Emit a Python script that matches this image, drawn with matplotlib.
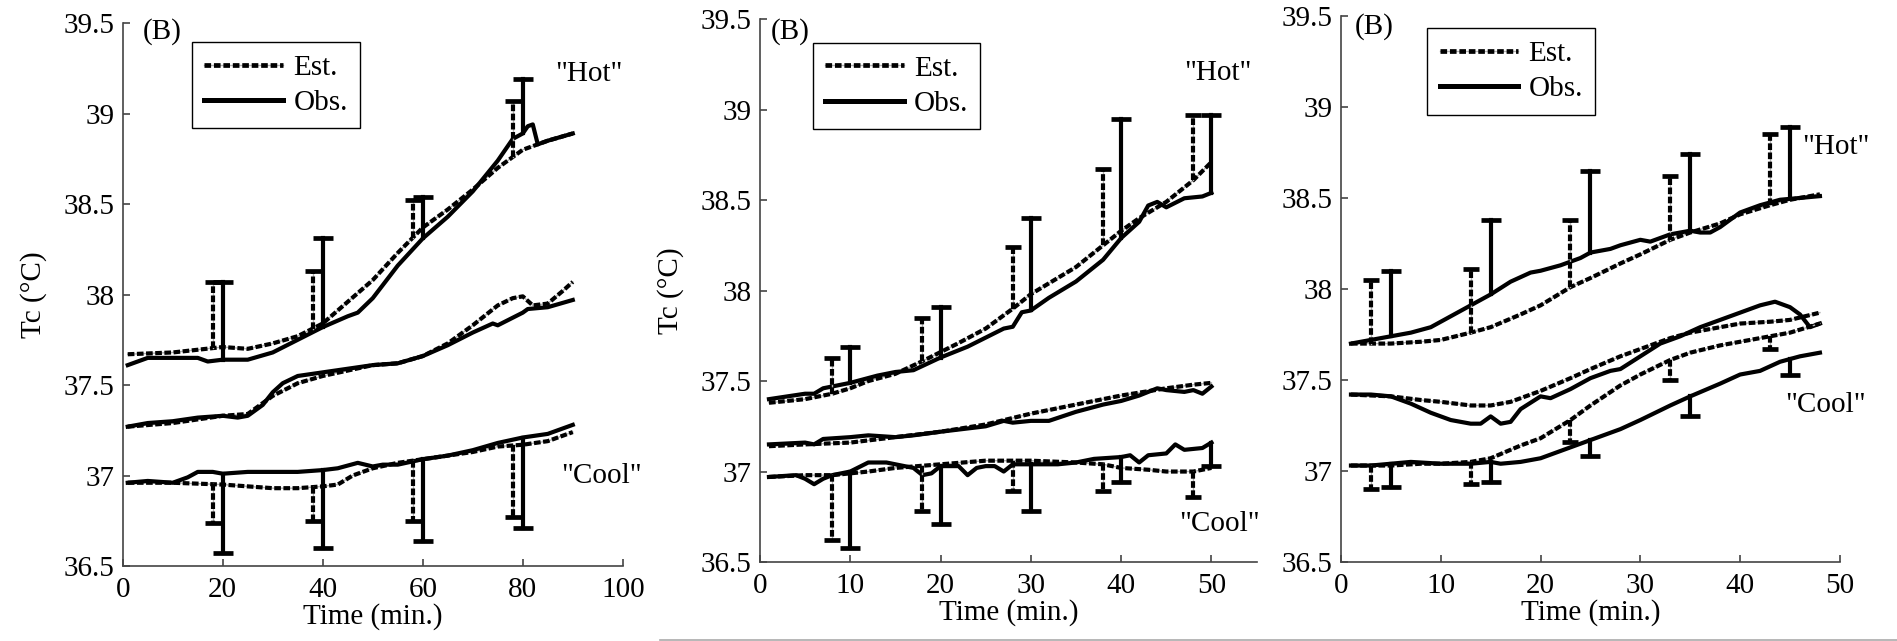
import numpy as np
import matplotlib
matplotlib.use("Agg")
import matplotlib.pyplot as plt
from matplotlib.lines import Line2D
from matplotlib.ticker import FuncFormatter

plt.rcParams['font.family'] = ['Liberation Serif', 'DejaVu Serif']
FS = 21
plt.rcParams['font.size'] = FS

# ---- panel 1 (0-100 min) ----
p1_hot_obs_x = [1, 5, 10, 15, 17, 20, 25, 30, 35, 40, 45, 47, 50, 55, 60, 65, 70, 75, 78, 80, 81, 82, 83, 85, 90]
p1_hot_obs_y = [37.61, 37.65, 37.65, 37.65, 37.63, 37.64, 37.64, 37.68, 37.75, 37.82, 37.88, 37.90, 37.98, 38.16,
                38.31, 38.43, 38.57, 38.74, 38.86, 38.89, 38.93, 38.94, 38.83, 38.85, 38.89]
p1_hot_est_x = [1, 10, 20, 25, 30, 35, 40, 45, 50, 55, 60, 65, 70, 75, 80, 85, 90]
p1_hot_est_y = [37.67, 37.68, 37.71, 37.70, 37.73, 37.77, 37.84, 37.96, 38.08, 38.23, 38.37, 38.47, 38.58, 38.70,
                38.80, 38.85, 38.89]
p1_mid_obs_x = [1, 5, 10, 15, 20, 23, 25, 28, 30, 32, 35, 40, 45, 50, 55, 60, 65, 70, 74, 75, 80, 81, 85, 90]
p1_mid_obs_y = [37.27, 37.29, 37.30, 37.32, 37.33, 37.32, 37.33, 37.39, 37.46, 37.51, 37.55, 37.57, 37.59, 37.61,
                37.62, 37.66, 37.72, 37.79, 37.84, 37.83, 37.90, 37.92, 37.93, 37.97]
p1_mid_est_x = [1, 10, 20, 25, 30, 35, 40, 45, 50, 55, 60, 65, 70, 75, 78, 80, 82, 85, 88, 90]
p1_mid_est_y = [37.27, 37.29, 37.33, 37.34, 37.44, 37.51, 37.55, 37.58, 37.61, 37.62, 37.66, 37.73, 37.83, 37.94,
                37.98, 37.99, 37.94, 37.95, 38.02, 38.07]
p1_cool_obs_x = [1, 5, 10, 13, 15, 18, 20, 25, 30, 35, 40, 43, 47, 50, 52, 55, 60, 65, 70, 75, 80, 85, 88, 90]
p1_cool_obs_y = [36.96, 36.97, 36.96, 36.99, 37.02, 37.02, 37.01, 37.02, 37.02, 37.02, 37.03, 37.04, 37.07, 37.05,
                 37.06, 37.06, 37.09, 37.11, 37.14, 37.18, 37.21, 37.23, 37.26, 37.28]
p1_cool_est_x = [1, 10, 20, 25, 30, 35, 40, 43, 46, 50, 55, 60, 65, 70, 75, 80, 85, 90]
p1_cool_est_y = [36.96, 36.96, 36.95, 36.94, 36.93, 36.93, 36.94, 36.95, 37.00, 37.04, 37.07, 37.09, 37.11, 37.13,
                 37.16, 37.17, 37.19, 37.24]
p1_est_bar_x = [18, 38, 58, 78]
p1_obs_bar_x = [20, 40, 60, 80]
p1_hot_est_bar = [38.07, 38.13, 38.52, 39.07]
p1_hot_obs_bar = [38.07, 38.31, 38.54, 39.19]
p1_cool_est_bar = [36.74, 36.75, 36.75, 36.77]
p1_cool_obs_bar = [36.57, 36.60, 36.64, 36.71]

# ---- panel 2 (0-55 min) ----
p2_hot_obs_x = [1, 5, 6, 7, 10, 13, 15, 17, 20, 23, 25, 27, 28, 29, 30, 32, 35, 38, 40, 42, 43, 44, 45, 47, 49, 50]
p2_hot_obs_y = [37.40, 37.43, 37.43, 37.46, 37.49, 37.53, 37.55, 37.56, 37.63, 37.69, 37.74, 37.79, 37.80, 37.88,
                37.89, 37.96, 38.05, 38.17, 38.29, 38.38, 38.47, 38.49, 38.46, 38.51, 38.52, 38.54]
p2_hot_est_x = [1, 5, 8, 10, 12, 15, 18, 20, 22, 25, 28, 30, 33, 35, 38, 40, 42, 45, 48, 50]
p2_hot_est_y = [37.38, 37.40, 37.43, 37.46, 37.50, 37.54, 37.61, 37.66, 37.71, 37.79, 37.90, 37.98, 38.07, 38.13,
                38.25, 38.33, 38.40, 38.49, 38.61, 38.71]
p2_mid_obs_x = [1, 5, 6, 7, 10, 12, 15, 17, 20, 25, 27, 28, 30, 32, 35, 38, 40, 42, 44, 45, 47, 48, 49, 50]
p2_mid_obs_y = [37.15, 37.16, 37.15, 37.18, 37.19, 37.20, 37.19, 37.20, 37.22, 37.25, 37.28, 37.27, 37.28, 37.28,
                37.33, 37.37, 37.39, 37.42, 37.46, 37.45, 37.44, 37.45, 37.43, 37.47]
p2_mid_est_x = [1, 5, 10, 15, 20, 25, 30, 35, 40, 45, 48, 50]
p2_mid_est_y = [37.14, 37.15, 37.16, 37.19, 37.22, 37.26, 37.32, 37.37, 37.42, 37.46, 37.48, 37.49]
p2_cool_obs_x = [1, 4, 5, 6, 7, 8, 10, 12, 14, 16, 17, 18, 19, 20, 22, 23, 24, 25, 26, 27, 28, 30, 33, 35, 37, 40,
                 41, 42, 43, 45, 46, 47, 49, 50]
p2_cool_obs_y = [36.97, 36.98, 36.96, 36.93, 36.96, 36.98, 37.00, 37.05, 37.05, 37.03, 37.02, 36.98, 36.99, 37.03,
                 37.03, 36.98, 37.02, 37.03, 37.03, 37.00, 37.04, 37.04, 37.04, 37.05, 37.07, 37.08, 37.09, 37.05,
                 37.09, 37.10, 37.15, 37.12, 37.13, 37.16]
p2_cool_est_x = [1, 5, 8, 10, 12, 15, 20, 25, 30, 35, 38, 40, 43, 45, 48, 50]
p2_cool_est_y = [36.97, 36.98, 36.98, 36.99, 37.00, 37.02, 37.04, 37.06, 37.06, 37.05, 37.04, 37.02, 37.01, 37.00,
                 37.00, 37.02]
p2_est_bar_x = [8, 18, 28, 38, 48]
p2_obs_bar_x = [10, 20, 30, 40, 50]
p2_hot_est_bar = [37.63, 37.85, 38.24, 38.67, 38.97]
p2_hot_obs_bar = [37.69, 37.91, 38.40, 38.95, 38.97]
p2_cool_est_bar = [36.62, 36.78, 36.89, 36.89, 36.86]
p2_cool_obs_bar = [36.58, 36.71, 36.78, 36.94, 37.03]

# ---- panel 3 (0-50 min) ----
p3_hot_obs_x = [1, 3, 5, 7, 9, 10, 12, 14, 15, 17, 19, 20, 22, 24, 25, 27, 28, 30, 31, 33, 35, 36, 37, 38, 40, 42,
                44, 46, 48]
p3_hot_obs_y = [37.70, 37.72, 37.74, 37.76, 37.79, 37.82, 37.88, 37.94, 37.97, 38.04, 38.09, 38.10, 38.13, 38.17,
                38.20, 38.22, 38.24, 38.27, 38.26, 38.30, 38.32, 38.31, 38.31, 38.34, 38.42, 38.46, 38.49, 38.50, 38.51]
p3_hot_est_x = [1, 5, 8, 10, 13, 15, 18, 20, 23, 25, 28, 30, 33, 35, 38, 40, 43, 45, 48]
p3_hot_est_y = [37.70, 37.70, 37.71, 37.72, 37.76, 37.79, 37.86, 37.91, 38.01, 38.06, 38.14, 38.19, 38.27, 38.31,
                38.36, 38.41, 38.46, 38.49, 38.52]
p3_mid_obs_x = [1, 3, 5, 7, 9, 11, 13, 14, 15, 16, 17, 18, 20, 21, 23, 25, 27, 28, 30, 32, 34, 36, 38, 40, 42, 43.5,
                45, 46, 47, 48]
p3_mid_obs_y = [37.42, 37.42, 37.41, 37.37, 37.32, 37.28, 37.26, 37.26, 37.30, 37.26, 37.27, 37.34, 37.41, 37.40,
                37.45, 37.51, 37.55, 37.56, 37.63, 37.70, 37.74, 37.79, 37.83, 37.87, 37.91, 37.93, 37.90, 37.86,
                37.79, 37.81]
p3_mid_est_x = [1, 5, 8, 10, 13, 15, 17, 20, 23, 25, 28, 30, 33, 35, 38, 40, 43, 45, 48]
p3_mid_est_y = [37.42, 37.41, 37.39, 37.38, 37.36, 37.36, 37.38, 37.44, 37.51, 37.56, 37.63, 37.67, 37.73, 37.76,
                37.79, 37.81, 37.82, 37.83, 37.87]
p3_cool_obs_x = [1, 3, 5, 7, 10, 13, 15, 16, 18, 20, 22, 25, 28, 30, 33, 35, 38, 40, 42, 44, 46, 48]
p3_cool_obs_y = [37.03, 37.03, 37.04, 37.05, 37.04, 37.04, 37.05, 37.04, 37.05, 37.07, 37.11, 37.17, 37.23, 37.28,
                 37.36, 37.41, 37.48, 37.53, 37.55, 37.60, 37.63, 37.65]
p3_cool_est_x = [1, 5, 8, 10, 13, 15, 18, 20, 23, 25, 28, 30, 33, 35, 38, 40, 43, 45, 48]
p3_cool_est_y = [37.03, 37.03, 37.04, 37.04, 37.05, 37.07, 37.14, 37.18, 37.28, 37.36, 37.47, 37.53, 37.61, 37.65,
                 37.69, 37.71, 37.74, 37.76, 37.81]
p3_est_bar_x = [3, 13, 23, 33, 43]
p3_obs_bar_x = [5, 15, 25, 35, 45]
p3_hot_est_bar = [38.05, 38.11, 38.38, 38.62, 38.85]
p3_hot_obs_bar = [38.10, 38.38, 38.65, 38.74, 38.89]
p3_cool_est_bar = [36.90, 36.93, 37.16, 37.50, 37.67]
p3_cool_obs_bar = [36.91, 36.94, 37.08, 37.30, 37.53]

y_ticks = [36.5, 37, 37.5, 38, 38.5, 39, 39.5]

# est. drawn as heavy black dashes over a thin grey line (grey shows in the gaps)
EST_UNDER = dict(color='#b0b0b0', lw=1.0, linestyle='-')
EST = dict(color='black', lw=3.0, linestyle=(0, (1.6, 0.6)))
OBS = dict(color='black', lw=3.0, linestyle='-')
fig = plt.figure(figsize=(18.97, 6.41), dpi=100)


def est_line(ax, x, y):
    ax.plot(x, y, **EST_UNDER)
    ax.plot(x, y, **EST)


def bars(ax, xs, ends, cx, cy, kind):
    base = np.interp(xs, cx, cy)
    for x, b, e in zip(xs, base, ends):
        if kind == 'est':
            est_line(ax, [x, x], [b, e])
        else:
            ax.plot([x, x], [b, e], **OBS)
    if kind == 'est':
        ax.plot(xs, ends, ls='none', marker='_', ms=11, mew=3.4, color='black')
    else:
        ax.plot(xs, ends, ls='none', marker='_', ms=14, mew=3.4, color='black')


def panel(rect, xlim, xticks, curves, bar_sets, hot_xy, cool_xy, b_xy, leg_xy, ylabel=True):
    ax = fig.add_axes(rect)
    for (ex, ey, ox, oy) in curves:
        est_line(ax, ex, ey)
        ax.plot(ox, oy, **OBS)
    for (xs, ends, cx, cy, kind) in bar_sets:
        bars(ax, xs, ends, cx, cy, kind)
    ax.set_xlim(*xlim)
    ax.set_ylim(36.5, 39.5)
    ax.set_xticks(xticks)
    ax.set_yticks(y_ticks)
    ax.yaxis.set_major_formatter(FuncFormatter(lambda v, p: '%g' % v))
    for s in ['top', 'right']:
        ax.spines[s].set_visible(False)
    for s in ['left', 'bottom']:
        ax.spines[s].set_color('#444444')
        ax.spines[s].set_linewidth(1.2)
    ax.tick_params(direction='in', length=5, width=1.2, color='#444444', labelsize=FS)
    ax.tick_params(axis='x', pad=8)
    ax.tick_params(axis='y', pad=6)
    ax.set_xlabel('Time (min.)', fontsize=FS, labelpad=0)
    if ylabel:
        ax.set_ylabel('Tc (°C)', fontsize=FS, labelpad=12)
    ax.text(*hot_xy, '"Hot"', ha='center', va='center', fontsize=FS, clip_on=False)
    ax.text(*cool_xy, '"Cool"', ha='center', va='center', fontsize=FS, clip_on=False)
    ax.text(*b_xy, '(B)', ha='center', va='center', fontsize=FS, clip_on=False)
    est_h = (Line2D([], [], color='#b0b0b0', lw=1.0),
             Line2D([], [], color='black', lw=3.4, linestyle=(0, (1.4, 0.6))))
    obs_h = Line2D([], [], color='black', lw=3.6)
    leg = ax.legend([est_h, obs_h], ['Est.', 'Obs.'], loc='upper left', bbox_to_anchor=leg_xy,
                    borderaxespad=0, fancybox=False, framealpha=1, edgecolor='black',
                    handlelength=2.7, handletextpad=0.35, labelspacing=0.3, borderpad=0.42, fontsize=FS)
    leg.get_frame().set_linewidth(1.0)
    return ax


panel([0.0647, 0.117, 0.2636, 0.847], (0, 100), [0, 20, 40, 60, 80, 100],
      [(p1_hot_est_x, p1_hot_est_y, p1_hot_obs_x, p1_hot_obs_y),
       (p1_mid_est_x, p1_mid_est_y, p1_mid_obs_x, p1_mid_obs_y),
       (p1_cool_est_x, p1_cool_est_y, p1_cool_obs_x, p1_cool_obs_y)],
      [(p1_est_bar_x, p1_hot_est_bar, p1_hot_est_x, p1_hot_est_y, 'est'),
       (p1_obs_bar_x, p1_hot_obs_bar, p1_hot_obs_x, p1_hot_obs_y, 'obs'),
       (p1_est_bar_x, p1_cool_est_bar, p1_cool_est_x, p1_cool_est_y, 'est'),
       (p1_obs_bar_x, p1_cool_obs_bar, p1_cool_obs_x, p1_cool_obs_y, 'obs')],
      (93.3, 39.22), (95.7, 37.0), (7.9, 39.455), (0.139, 0.965))

panel([0.4006, 0.1232, 0.2618, 0.847], (0, 55), [0, 10, 20, 30, 40, 50],
      [(p2_hot_est_x, p2_hot_est_y, p2_hot_obs_x, p2_hot_obs_y),
       (p2_mid_est_x, p2_mid_est_y, p2_mid_obs_x, p2_mid_obs_y),
       (p2_cool_est_x, p2_cool_est_y, p2_cool_obs_x, p2_cool_obs_y)],
      [(p2_est_bar_x, p2_hot_est_bar, p2_hot_est_x, p2_hot_est_y, 'est'),
       (p2_obs_bar_x, p2_hot_obs_bar, p2_hot_obs_x, p2_hot_obs_y, 'obs'),
       (p2_est_bar_x, p2_cool_est_bar, p2_cool_est_x, p2_cool_est_y, 'est'),
       (p2_obs_bar_x, p2_cool_obs_bar, p2_cool_obs_x, p2_cool_obs_y, 'obs')],
      (50.7, 39.2), (50.9, 36.71), (3.4, 39.43), (0.106, 0.956))

panel([0.7069, 0.1232, 0.263, 0.852], (0, 50), [0, 10, 20, 30, 40, 50],
      [(p3_hot_est_x, p3_hot_est_y, p3_hot_obs_x, p3_hot_obs_y),
       (p3_mid_est_x, p3_mid_est_y, p3_mid_obs_x, p3_mid_obs_y),
       (p3_cool_est_x, p3_cool_est_y, p3_cool_obs_x, p3_cool_obs_y)],
      [(p3_est_bar_x, p3_hot_est_bar, p3_hot_est_x, p3_hot_est_y, 'est'),
       (p3_obs_bar_x, p3_hot_obs_bar, p3_hot_obs_x, p3_hot_obs_y, 'obs'),
       (p3_est_bar_x, p3_cool_est_bar, p3_cool_est_x, p3_cool_est_y, 'est'),
       (p3_obs_bar_x, p3_cool_obs_bar, p3_cool_obs_x, p3_cool_obs_y, 'obs')],
      (49.6, 38.78), (48.6, 37.36), (3.3, 39.44), (0.173, 0.977), ylabel=False)

# thin grey separator under the right two panels
fig.add_artist(Line2D([660 / 1897, 1.0], [1.5 / 641, 1.5 / 641], color='#aaaaaa', lw=1.2))

fig.savefig('out.png', dpi=100)
